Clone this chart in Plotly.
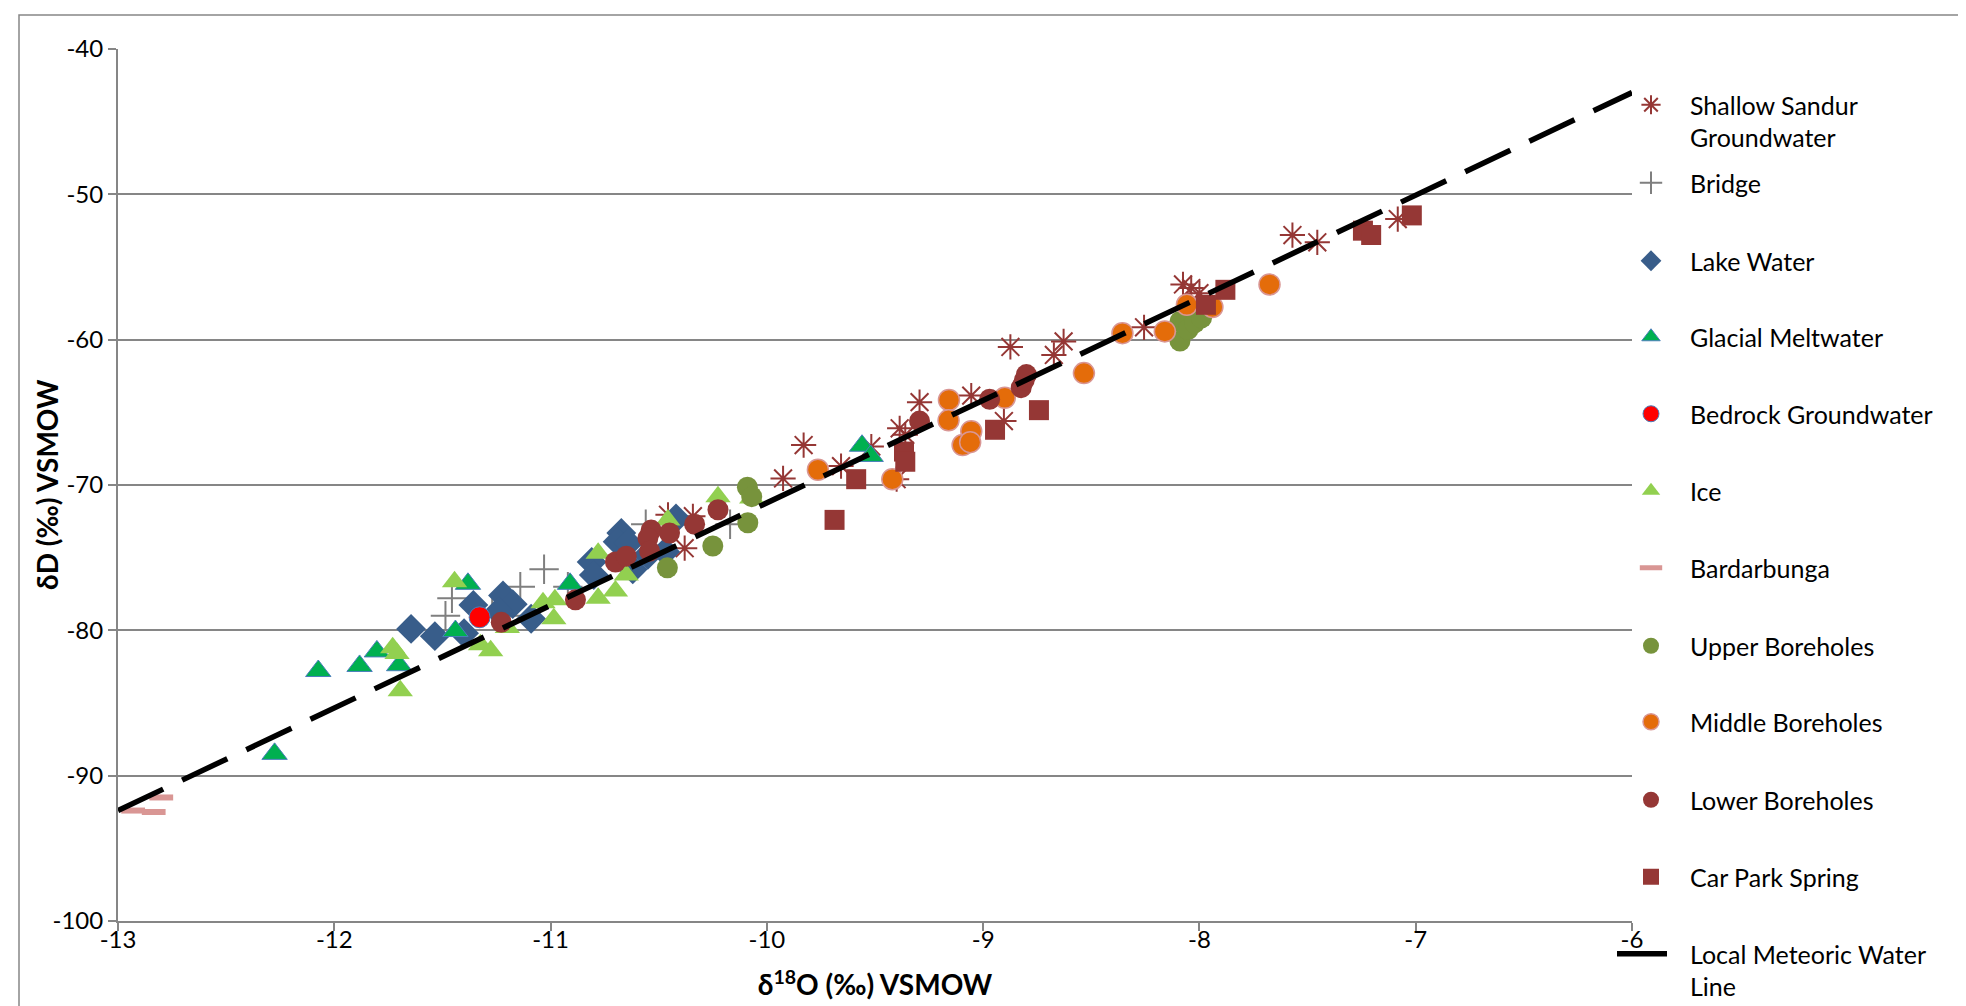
import plotly.graph_objects as go

# ---------------- data ----------------
shallow_x = [-10.457, -10.342, -10.38, -9.925, -9.83, -9.657, -9.517, -9.40, -9.386, -9.36,
             -9.294, -9.055, -8.904, -8.874, -8.673, -8.628, -8.256, -8.076, -8.038, -8.0,
             -7.57, -7.455, -7.083]
shallow_y = [-72.05, -72.15, -74.35, -69.55, -67.25, -68.7, -67.35, -69.6, -66.1, -66.55,
             -64.3, -63.85, -65.6, -60.5, -61.05, -60.12, -59.15, -56.2, -56.45, -56.8,
             -52.8, -53.3, -51.7]

bridge_x = [-11.486, -11.456, -11.27, -11.19, -11.14, -11.03, -10.92, -10.56, -10.17]
bridge_y = [-79.0, -77.8, -78.6, -79.0, -77.0, -75.8, -77.0, -72.7, -72.7]

lake_x = [-11.645, -11.535, -11.40, -11.357, -11.22, -11.175, -11.24, -11.09, -10.81,
          -10.80, -10.673, -10.69, -10.64, -10.62, -10.47, -10.42, -10.55]
lake_y = [-79.9, -80.4, -80.2, -78.25, -77.6, -78.2, -78.7, -79.2, -75.3,
          -76.2, -73.3, -73.9, -74.0, -75.8, -74.6, -72.3, -74.8]

glacial_x = [-12.276, -12.074, -11.883, -11.803, -11.70, -11.44, -11.382, -10.91, -9.56, -9.52]
glacial_y = [-88.5, -82.8, -82.45, -81.45, -82.4, -80.05, -76.8, -76.8, -67.3, -68.0]

bedrock_x = [-11.328]
bedrock_y = [-79.1]

ice_x = [-11.444, -11.73, -11.71, -11.695, -11.324, -11.277, -11.20, -11.035, -10.98,
         -10.985, -10.78, -10.70, -10.78, -10.65, -10.458, -10.226, -10.07]
ice_y = [-76.65, -81.2, -81.6, -84.15, -81.0, -81.4, -79.8, -78.1, -77.9,
         -79.2, -77.8, -77.3, -74.7, -76.2, -72.4, -70.8, -70.9]

bard_x = [-12.93, -12.835, -12.80]
bard_y = [-92.4, -92.5, -91.5]

upper_x = [-10.09, -10.07, -10.088, -10.25, -10.46, -8.09, -8.09, -8.053, -8.022, -7.99]
upper_y = [-70.15, -70.8, -72.6, -74.2, -75.7, -60.1, -58.75, -59.3, -58.85, -58.5]

middle_x = [-9.764, -9.42, -9.158, -9.16, -9.055, -9.095, -9.06, -8.90, -8.534, -8.356,
            -8.16, -8.058, -7.94, -7.676]
middle_y = [-68.95, -69.6, -64.15, -65.55, -66.3, -67.25, -67.05, -64.0, -62.3, -59.55,
            -59.43, -57.6, -57.75, -56.2]

lower_x = [-11.228, -10.885, -10.70, -10.65, -10.535, -10.55, -10.542, -10.45, -10.334,
           -10.226, -9.294, -8.97, -8.824, -8.81, -8.80]
lower_y = [-79.45, -77.9, -75.3, -74.9, -73.1, -73.65, -74.55, -73.3, -72.7,
           -71.7, -65.6, -64.1, -63.3, -62.8, -62.4]

carpark_x = [-9.687, -9.587, -9.366, -9.36, -8.945, -8.742, -7.97, -7.88, -7.244, -7.206, -7.018]
carpark_y = [-72.4, -69.6, -67.7, -68.4, -66.2, -64.85, -57.6, -56.57, -52.5, -52.8, -51.45]

lmwl_x = [-13.0, -6.0]
lmwl_y = [-92.4, -43.0]

x_ticks = [-13, -12, -11, -10, -9, -8, -7, -6]
y_ticks = [-100, -90, -80, -70, -60, -50, -40]

# ---------------- layout geometry (pixels) ----------------
W, H = 1966, 1006
PL, PR, PT, PB = 110, 1624, 41, 913
FONT = "Lato, 'Open Sans', sans-serif"
GRID = "#868686"

legend_rows_px = [113, 175, 253, 329, 406, 483, 560, 638, 714, 792, 869, 962]
LEG_LEFT = 1604

DR = "#953735"
series = [
    ("Shallow Sandur<br>Groundwater", shallow_x, shallow_y, "markers",
     dict(symbol="asterisk-open", size=21, color=DR, line=dict(color=DR, width=2))),
    ("Bridge", bridge_x, bridge_y, "markers",
     dict(symbol="cross-thin-open", size=21, color="#7F7F7F", line=dict(color="#7F7F7F", width=2))),
    ("Lake Water", lake_x, lake_y, "markers",
     dict(symbol="diamond", size=23, color="#385D8A", line=dict(width=0))),
    ("Glacial Meltwater", glacial_x, glacial_y, "markers",
     dict(symbol="triangle-up", size=22, color="#00B050", line=dict(color="#4A7EBB", width=1))),
    ("Bedrock Groundwater", bedrock_x, bedrock_y, "markers",
     dict(symbol="circle", size=21, color="#FF0000", line=dict(color="#4A7EBB", width=1))),
    ("Ice", ice_x, ice_y, "markers",
     dict(symbol="triangle-up", size=22, color="#92D050", line=dict(width=0))),
    ("Bardarbunga", bard_x, bard_y, "markers",
     dict(symbol="line-ew-open", size=17, color="#D99694", line=dict(color="#D99694", width=6))),
    ("Upper Boreholes", upper_x, upper_y, "markers",
     dict(symbol="circle", size=21, color="#77933C", line=dict(width=0))),
    ("Middle Boreholes", middle_x, middle_y, "markers",
     dict(symbol="circle", size=21, color="#E46C0A", line=dict(color="#D99694", width=1.5))),
    ("Lower Boreholes", lower_x, lower_y, "markers",
     dict(symbol="circle", size=21, color=DR, line=dict(width=0))),
    ("Car Park Spring", carpark_x, carpark_y, "markers",
     dict(symbol="square", size=20, color=DR, line=dict(width=0))),
]

fig = go.Figure()
legend_keys = []
for i, (name, xs, ys, mode, mk) in enumerate(series):
    key = "legend" if i == 0 else f"legend{i + 1}"
    legend_keys.append(key)
    fig.add_trace(go.Scatter(x=xs, y=ys, mode=mode, name=name, marker=mk,
                             legend=key, hoverinfo="x+y+name"))

key = f"legend{len(series) + 1}"
legend_keys.append(key)
fig.add_trace(go.Scatter(x=lmwl_x, y=lmwl_y, mode="lines", name="Local Meteoric Water<br>Line",
                         line=dict(color="black", width=5.5, dash="50px,21px"), legend=key))

layout_legends = {}
for key, ypix in zip(legend_keys, legend_rows_px):
    layout_legends[key] = dict(
        x=(LEG_LEFT - PL) / (PR - PL), xanchor="left",
        y=(PB - ypix) / (PB - PT), yanchor="middle",
        bgcolor="rgba(0,0,0,0)", borderwidth=0,
        font=dict(family=FONT, size=25, color="black"),
        itemwidth=68, valign="top",
    )

fig.update_layout(
    width=W, height=H,
    margin=dict(l=PL, r=W - PR, t=PT, b=H - PB, autoexpand=False),
    paper_bgcolor="white", plot_bgcolor="white",
    font=dict(family=FONT, color="black"),
    showlegend=True,
    **layout_legends,
    xaxis=dict(range=[-13, -6], tickvals=x_ticks, ticktext=[str(v) for v in x_ticks],
               showgrid=False, zeroline=False, showline=True, linecolor=GRID, linewidth=2,
               ticks="outside", ticklen=8, tickwidth=2, tickcolor=GRID,
               ticklabelstandoff=-12,
               tickfont=dict(family=FONT, size=24, color="black"),
               title=dict(text="<b>δ<sup>18</sup>O (‰) VSMOW</b>",
                          font=dict(family=FONT, size=28, color="black"), standoff=24)),
    yaxis=dict(range=[-100, -40], tickvals=y_ticks, ticktext=[str(v) for v in y_ticks],
               showgrid=True, gridcolor=GRID, gridwidth=2, zeroline=False,
               showline=True, linecolor=GRID, linewidth=2,
               ticks="outside", ticklen=8, tickwidth=2, tickcolor=GRID,
               tickfont=dict(family=FONT, size=24, color="black")),
    annotations=[dict(text="<b>δD (‰) VSMOW</b>", textangle=-90, showarrow=False,
                      xref="paper", yref="paper", x=(39 - PL) / (PR - PL), y=0.5,
                      xanchor="center", yanchor="middle",
                      font=dict(family=FONT, size=28, color="black"))],
    shapes=[dict(type="rect", xref="paper", yref="paper", layer="below",
                 x0=(11 - PL) / (PR - PL), x1=(1963 - PL) / (PR - PL),
                 y0=(PB - 1030) / (PB - PT), y1=(PB - 7) / (PB - PT),
                 line=dict(color=GRID, width=1.5), fillcolor="rgba(0,0,0,0)")],
)

fig.write_html("out.html")
